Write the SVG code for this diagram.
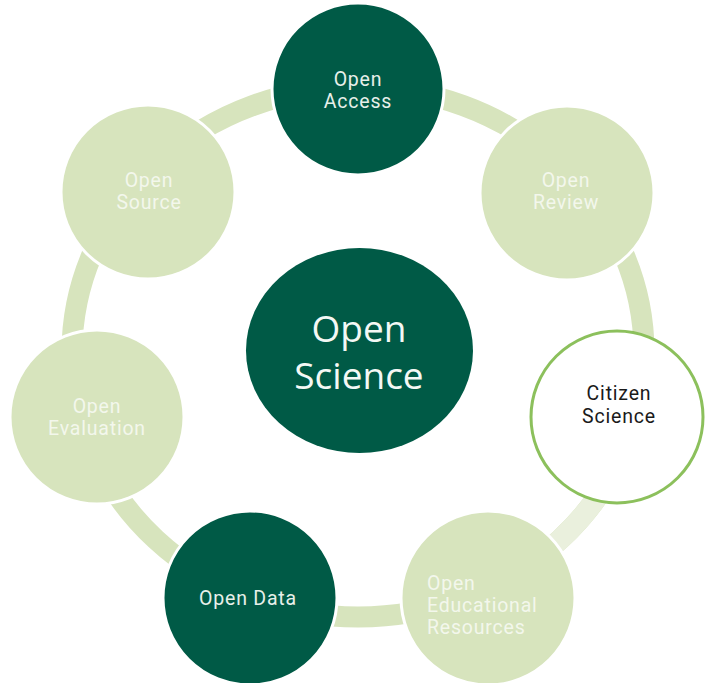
<svg xmlns="http://www.w3.org/2000/svg" width="706" height="683" viewBox="0 0 706 683">
  <style>
    .ring { fill: none; stroke: #D7E4BD; stroke-width: 21; }
    .ring-soft { fill: none; stroke: #EAF0DD; stroke-width: 21; }
    .dark { fill: #005A46; stroke: #ffffff; stroke-width: 3; }
    .light { fill: #D7E4BD; stroke: #ffffff; stroke-width: 3; }
    .accent { fill: #ffffff; stroke: #8CC05C; stroke-width: 3; }
    .lbl { font-family: Roboto, "Liberation Sans", sans-serif; font-size: 19.5px; letter-spacing: 0.8px; text-anchor: middle; }
    .start { text-anchor: start; }
    .on-dark { fill: #E8F0EA; }
    .on-light { fill: #F3F7EC; }
    .on-white { fill: #1A1A1A; }
    .title { font-family: "Open Sans", "Liberation Sans", sans-serif; font-size: 37px; fill: #F4F8F5; text-anchor: middle; }
  </style>

  <rect width="706" height="683" fill="#ffffff"/>

  <!-- cycle ring behind the nodes -->
  <g id="connectors">
    <ellipse class="ring" cx="358" cy="352" rx="286" ry="265"/>
    <path class="ring-soft" d="M 626.8 442.6 A 286 265 0 0 1 478.9 592.2"/>
  </g>

  <g id="node-center">
    <ellipse cx="359.5" cy="350.5" rx="113.5" ry="102.5" fill="#005A46"/>
    <text class="title" x="359" y="342">Open</text>
    <text class="title" x="359" y="389">Science</text>
  </g>

  <g id="node-open-access">
    <circle class="dark" cx="358" cy="89" r="86"/>
    <text class="lbl on-dark" x="358" y="86">Open</text>
    <text class="lbl on-dark" x="358" y="108">Access</text>
  </g>

  <g id="node-open-review">
    <circle class="light" cx="567" cy="193" r="87"/>
    <text class="lbl on-light" x="566" y="187">Open</text>
    <text class="lbl on-light" x="566" y="209">Review</text>
  </g>

  <g id="node-citizen-science">
    <circle class="accent" cx="617" cy="417" r="86"/>
    <text class="lbl on-white" x="619" y="400">Citizen</text>
    <text class="lbl on-white" x="619" y="423">Science</text>
  </g>

  <g id="node-oer">
    <circle class="light" cx="488" cy="598" r="87"/>
    <text class="lbl start on-light" x="427" y="590">Open</text>
    <text class="lbl start on-light" x="427" y="612">Educational</text>
    <text class="lbl start on-light" x="427" y="634">Resources</text>
  </g>

  <g id="node-open-data">
    <circle class="dark" cx="250" cy="598" r="87"/>
    <text class="lbl on-dark" x="248" y="605">Open Data</text>
  </g>

  <g id="node-open-evaluation">
    <circle class="light" cx="97" cy="417" r="87"/>
    <text class="lbl on-light" x="97" y="413">Open</text>
    <text class="lbl on-light" x="97" y="435">Evaluation</text>
  </g>

  <g id="node-open-source">
    <circle class="light" cx="148" cy="192" r="87"/>
    <text class="lbl on-light" x="149" y="187">Open</text>
    <text class="lbl on-light" x="149" y="209">Source</text>
  </g>
</svg>
